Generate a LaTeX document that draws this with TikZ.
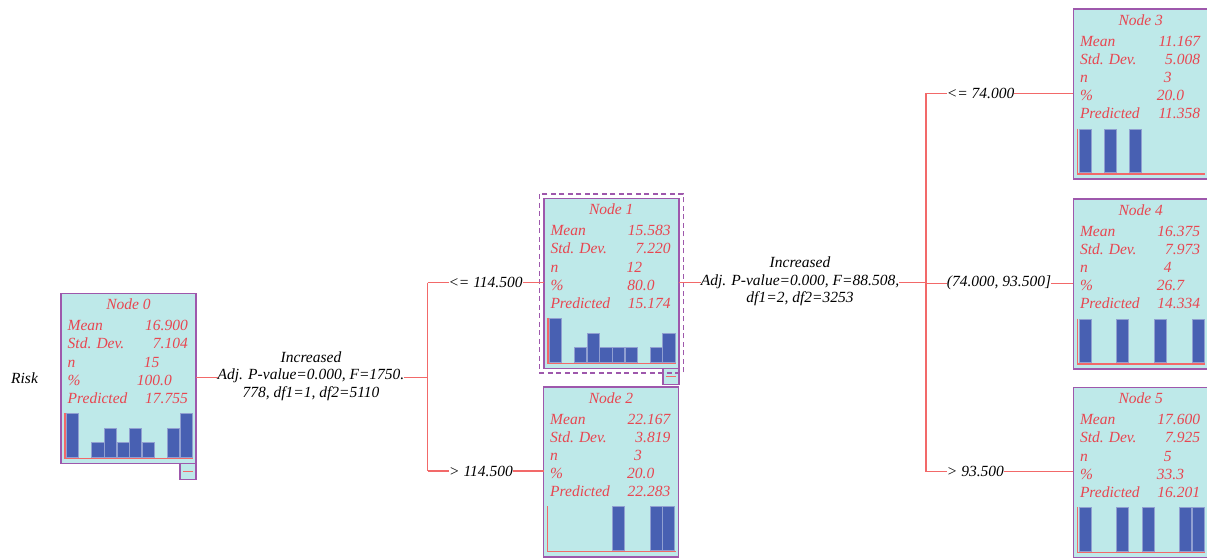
\documentclass[tikz,border=0pt]{standalone}
\usepackage{fontspec}
\setmainfont{Liberation Serif}
\usetikzlibrary{calc,fit}
\definecolor{boxfill}{RGB}{190,233,233}
\definecolor{boxline}{RGB}{158,88,172}
\definecolor{txtred}{RGB}{232,70,80}
\definecolor{barblue}{RGB}{72,96,178}
\definecolor{linkred}{RGB}{242,105,105}
\tikzset{
  nodebox/.style={draw=boxline, line width=1.6pt, fill=boxfill, minimum width=135pt, minimum height=170pt, anchor=north west, inner sep=0pt, outer sep=0pt},
  ttl/.style={text=txtred, font=\fontsize{15.5}{18}\selectfont\itshape, anchor=base, inner sep=0pt},
  lbl/.style={ttl, anchor=base west},
  val/.style={ttl, anchor=base east},
  edgetext/.style={font=\fontsize{15.5}{17.5}\selectfont\itshape, fill=white, inner sep=0pt, align=center},
  link/.style={draw=linkred, line width=1.5pt},
  bar/.style={fill=barblue, draw=barblue!60!white, line width=0.5pt},
  axisline/.style={draw=linkred, line width=1.5pt},
  minusbox/.style={draw=boxline, fill=boxfill, line width=1.5pt, minimum width=16pt, minimum height=16pt, anchor=north east, inner sep=0pt, outer sep=0pt},
  selbox/.style={draw=boxline, line width=1.6pt, dash pattern=on 5pt off 3.5pt, inner sep=4.5pt}
}
\newcommand{\treenode}[9]{%
  \node[nodebox] (#1) at (#2,#3) {};
  \node[ttl] (#1-t) at ($(#1.north)+(0,16.5)$) {Node #4};
  \node[lbl] (#1-a) at ($(#1.north west)+(6.5,37.5)$) {Mean};
  \node[val] (#1-av) at ($(#1.north west)+(127,37.5)$) {#5};
  \node[lbl] (#1-b) at ($(#1.north west)+(6.5,55.6)$) {Std. Dev.};
  \node[val] (#1-bv) at ($(#1.north west)+(127,55.6)$) {#6};
  \node[lbl] (#1-c) at ($(#1.north west)+(6.5,73.7)$) {n};
  \node[val] (#1-cv) at ($(#1.north west)+(98.5,73.7)$) {#7};
  \node[lbl] (#1-d) at ($(#1.north west)+(6.5,91.8)$) {\%};
  \node[val] (#1-dv) at ($(#1.north west)+(111,91.8)$) {#8};
  \node[lbl] (#1-e) at ($(#1.north west)+(6.5,109.9)$) {Predicted};
  \node[val] (#1-ev) at ($(#1.north west)+(127,109.9)$) {#9};
}
\newcommand{\hist}[3]{%
  \foreach \s/\h in {#3} {
    \path[bar] ($(#1.north west)+({5.5+\s*12.6},163.5)$) rectangle ($(#1.north west)+({5.5+(\s+1)*12.6-0.5},{163.5-\h*43.5/#2})$);
  }
  \draw[axisline] ($(#1.north west)+(4,119.5)$) -- ($(#1.north west)+(4,165)$) -- ($(#1.north west)+(132,165)$);
}
\newcommand{\minusmark}[2]{%
  \node[minusbox] (#2) at (#1.south east) {};
  \draw[draw=linkred, line width=1.5pt] ($(#2.center)+(-5,0)$) -- ($(#2.center)+(5,0)$);
}
\begin{document}
\begin{tikzpicture}[x=1pt,y=-1pt]
\useasboundingbox (0,0) rectangle (1207,557);
\clip (0,0) rectangle (1207,557);
\fill[white] (0,0) rectangle (1207,557);

% nodes
\treenode{n0}{61}{293.3}{0}{16.900}{7.104}{15}{100.0}{17.755}
\hist{n0}{3}{0/3,2/1,3/2,4/1,5/2,6/1,8/2,9/3}
\minusmark{n0}{m0}

\treenode{n1}{543.8}{198.3}{1}{15.583}{7.220}{12}{80.0}{15.174}
\hist{n1}{3}{0/3,2/1,3/2,4/1,5/1,6/1,8/1,9/2}
\minusmark{n1}{m1}
\node[selbox, fit=(n1)] (n1sel) {};

\treenode{n2}{543.5}{386.7}{2}{22.167}{3.819}{3}{20.0}{22.283}
\hist{n2}{1}{5/1,8/1,9/1}

\treenode{n3}{1073.3}{9}{3}{11.167}{5.008}{3}{20.0}{11.358}
\hist{n3}{1}{0/1,2/1,4/1}

\treenode{n4}{1073.3}{199}{4}{16.375}{7.973}{4}{26.7}{14.334}
\hist{n4}{1}{0/1,3/1,6/1,9/1}

\treenode{n5}{1073.3}{387.3}{5}{17.600}{7.925}{5}{33.3}{16.201}
\hist{n5}{1}{0/1,3/1,5/1,8/1,9/1}

% ports
\coordinate (n0r) at ($(n0.north east)+(0,84.4)$);
\coordinate (n1l) at ($(n1.north west)+(0,84.4)$);
\coordinate (n1r) at ($(n1.north east)+(0,84.4)$);
\coordinate (n2l) at ($(n2.north west)+(0,84.4)$);
\coordinate (n3l) at ($(n3.north west)+(0,84.4)$);
\coordinate (n4l) at ($(n4.north west)+(0,84.4)$);
\coordinate (n5l) at ($(n5.north west)+(0,84.4)$);
\coordinate (s0) at (427.7,0);
\coordinate (s1) at (926,0);

% connectors
\draw[link] (n0r) -- (n0r -| s0);
\draw[link] (s0 |- n1l) -- (s0 |- n2l);
\draw[link] (s0 |- n1l) -- (n1l);
\draw[link] (s0 |- n2l) -- (n2l);
\draw[link] (n1r) -- (n1r -| s1);
\draw[link] (s1 |- n3l) -- (s1 |- n5l);
\draw[link] (s1 |- n3l) -- (n3l);
\draw[link] (s1 |- n4l) -- (n4l);
\draw[link] (s1 |- n5l) -- (n5l);

% labels
\node[edgetext, anchor=west] (risk) at (11,378) {Risk};
\node[edgetext] (e0) at (311,376) {Increased\\Adj. P-value=0.000, F=1750.\\778, df1=1, df2=5110};
\node[edgetext] (e1) at (800,281.6) {Increased\\Adj. P-value=0.000, F=88.508,\\df1=2, df2=3253};
\node[edgetext, anchor=west] (c1) at (448.3,282.7) {<= 114.500};
\node[edgetext, anchor=west] (c2) at (449,471) {> 114.500};
\node[edgetext, anchor=west] (c3) at (946.7,93.4) {<= 74.000};
\node[edgetext, anchor=west] (c4) at (946.7,282.7) {(74.000, 93.500]};
\node[edgetext, anchor=west] (c5) at (946.7,471.7) {> 93.500};
\end{tikzpicture}
\end{document}
